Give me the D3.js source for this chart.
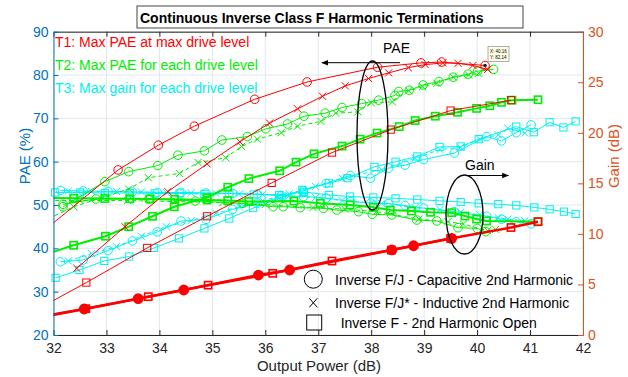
<!DOCTYPE html>
<html>
<head>
<meta charset="utf-8">
<script src="https://cdn.jsdelivr.net/npm/d3@7"></script>
<style>
body { margin: 0; background: #fff; }
svg text { font-family: "Liberation Sans", Arial, sans-serif; }
</style>
</head>
<body>
<svg id="chart" width="628" height="377"></svg>
<script>
// axis ticks
const xTicks = d3.range(32, 43, 1);
const paeTicks = d3.range(20, 91, 10);
const gainTicks = d3.range(0, 31, 5);

// PAE (%) vs output power (dB)
const paeRedCirc = [[31.9,44.9],[33.22,58.1],[33.98,63.8],[34.66,68.2],[35.8,74.4],[36.79,78.4],[38.12,81.8],[38.94,82.8],[39.33,83.0],[40.15,82.2]];
const paeRedX = [[32.44,35.4],[33.35,45.0],[34.16,53.1],[34.9,59.5],[35.52,64.6],[36.08,68.9],[36.61,72.2],[37.08,75.1],[37.51,77.5],[37.95,79.2],[38.33,80.5],[38.7,81.7],[39.02,82.4],[39.35,82.8],[39.64,82.7],[39.92,82.2],[40.2,81.3]];
const paeRedSq = [[31.9,27.3],[32.62,32.1],[33.77,40.1],[34.9,47.4],[36.12,55.1],[37.26,62.1],[38.37,67.4],[39.5,71.8],[40.64,74.2]];
const paeGreenCirc = [[32.18,49.6],[32.97,55.4],[33.42,57.7],[33.97,59.1],[34.35,61.5],[34.85,62.5],[35.18,65.0],[35.66,65.8],[36.01,67.6],[36.42,68.7],[36.73,70.5],[37.13,71.2],[37.45,72.5],[37.82,73.4],[38.14,74.2],[38.45,75.3],[38.52,76.2],[38.72,76.5],[38.98,77.7],[39.28,78.5],[39.55,79.5],[39.83,80.2],[40.01,80.9],[40.31,81.3]];
const paeGreenX = [[31.9,46.8],[32.38,49.6],[33.42,53.7],[33.79,56.3],[34.38,57.3],[34.73,59.8],[35.25,60.9],[35.55,63.5],[35.85,65.2],[36.3,66.7],[36.61,68.2],[37.05,69.3],[37.33,71.2],[37.75,71.5],[38.0,73.6],[38.4,73.8],[38.71,76.4],[38.97,77.3],[39.24,78.1],[39.55,79.5],[39.84,80.0],[40.03,80.4]];
const paeGreenSq = [[31.9,38.8],[32.38,40.7],[32.98,42.8],[33.42,45.0],[33.87,47.4],[34.28,49.6],[34.9,51.7],[35.29,54.1],[35.69,56.1],[36.27,57.9],[36.58,59.9],[36.92,61.8],[37.45,63.6],[37.79,65.2],[38.11,66.6],[38.53,68.1],[38.83,69.5],[39.21,70.5],[39.63,71.4],[39.99,72.3],[40.24,72.9],[40.46,73.7],[40.66,74.2],[41.15,74.3]];
const paeCyanCirc = [[32.13,36.9],[32.56,37.3],[33.03,39.5],[33.49,41.7],[33.96,43.8],[34.41,46.3],[34.88,46.7],[35.38,49.0],[35.85,50.4],[36.3,51.8],[36.72,53.3],[37.15,55.0],[37.61,56.8],[37.99,56.2],[38.33,58.5],[38.64,59.2],[38.99,60.5],[39.57,62.0],[40.18,65.8],[40.46,64.8],[40.74,66.7],[41.02,68.5]];
const paeCyanX = [[32.28,37.1],[32.72,38.8],[33.19,40.4],[33.66,42.8],[34.13,45.0],[34.6,46.4],[35.07,48.1],[35.51,49.6],[35.95,51.0],[36.45,52.6],[36.95,54.3],[37.45,56.2],[38.2,58.1],[38.83,60.8],[39.3,62.8],[39.69,63.3],[40.05,65.2],[40.4,66.2],[40.58,67.7],[40.9,66.6]];
const paeCyanSq = [[32.04,33.2],[32.49,35.0],[32.96,37.1],[33.43,38.1],[33.9,40.1],[34.37,42.3],[34.85,44.6],[35.32,46.9],[35.77,49.3],[36.26,51.6],[36.7,53.5],[37.2,55.0],[37.55,56.2],[38.06,58.8],[38.46,60.0],[38.87,61.2],[39.29,63.4],[39.69,63.5],[40.03,65.2],[40.74,68.1],[41.07,66.8],[41.37,69.1],[41.63,67.9],[41.86,69.3]];

// Gain (dB) vs output power (dB)
const gainCyanSq = [[32.03,14.1],[32.5,14.1],[32.97,14.05],[33.44,14.05],[33.91,14.0],[34.38,14.0],[34.85,13.95],[35.32,14.0],[35.78,13.9],[36.26,13.85],[36.73,14.15],[37.2,13.85],[37.6,13.7],[38.04,13.6],[38.46,13.52],[38.87,13.4],[39.29,13.27],[39.69,13.15],[40.03,13.02],[40.4,12.94],[40.74,12.82],[41.08,12.62],[41.37,12.43],[41.64,12.2],[41.86,11.97]];
const gainCyanCirc = [[32.13,14.3],[32.56,14.25],[33.03,14.2],[33.49,14.15],[33.96,14.1],[34.41,14.1],[34.88,14.05],[35.38,14.0],[35.85,13.95],[36.3,13.8],[36.72,13.7],[37.15,13.55],[37.61,13.2],[37.99,13.05],[38.33,13.0],[38.64,12.8],[38.99,12.55],[39.57,12.2],[40.18,11.75],[40.46,11.45],[40.74,11.2],[41.02,11.0]];
const gainCyanX = [[32.28,14.25],[32.72,14.2],[33.19,14.2],[33.66,14.15],[34.13,14.1],[34.6,14.05],[35.07,14.0],[35.51,13.95],[35.95,13.9],[36.45,13.75],[36.95,13.6],[37.45,13.3],[38.2,13.0],[38.83,12.6],[39.3,12.4],[39.69,12.15],[40.05,11.9],[40.4,11.6],[40.58,11.45],[40.9,11.3]];
const gainGreenCirc = [[32.18,12.93],[32.8,13.45],[33.8,13.45],[34.68,13.25],[35.58,13.02],[36.15,12.69],[36.34,12.69],[36.66,12.59],[37.1,12.53],[37.35,12.36],[37.76,12.2],[38.02,11.94],[38.39,11.87],[38.86,11.37],[39.24,11.28],[39.64,10.61],[40.0,10.55],[40.16,10.22]];
const gainGreenX = [[31.9,13.3],[32.5,13.3],[33.4,13.3],[34.3,13.2],[35.2,13.1],[36.0,12.9],[36.9,12.6],[37.5,12.45],[38.1,12.2],[38.9,11.47],[39.45,11.21],[39.74,10.98],[40.2,10.32],[40.35,10.45]];
const gainGreenSq = [[31.9,13.55],[32.38,13.52],[32.97,13.5],[33.44,13.48],[33.82,13.45],[34.29,13.42],[34.9,13.35],[35.29,13.3],[35.69,13.2],[36.54,13.25],[37.04,13.02],[37.6,12.86],[38.04,12.63],[38.36,12.36],[38.76,12.26],[39.12,12.14],[39.52,12.1],[39.77,11.77],[39.99,11.47],[40.18,11.28],[41.15,11.21]];
const gainRedCirc = [[31.9,1.9],[32.58,2.57],[33.6,3.6],[34.46,4.45],[35.87,5.93],[36.46,6.43],[38.39,8.41],[38.8,8.83],[39.52,9.56]];
const gainRedSq = [[31.9,1.95],[32.61,2.6],[33.79,3.79],[34.92,4.93],[36.14,6.1],[37.26,7.32],[38.38,8.4],[39.5,9.55],[40.64,10.63],[41.15,11.21]];

const legendTexts = ["T1: Max PAE at max drive level", "T2: Max PAE for each drive level", "T3: Max gain for each drive level"];
const markerTexts = ["Inverse F/J - Capacitive 2nd Harmonic", "Inverse F/J* - Inductive 2nd Harmonic", "Inverse F - 2nd Harmonic Open"];

const RED = "#ff0000", GREEN = "#00ee00", CYAN = "#00f0f0";
const BLUE = "#0072bd", ORANGE = "#d95319", DARK = "#262626";

const svg = d3.select("#chart");
const pLeft = 53.5, pRight = 583, pTop = 31.7, pBottom = 335;

const x = d3.scaleLinear().domain([32, 42]).range([pLeft, pRight]);
const yL = d3.scaleLinear().domain([20, 90]).range([pBottom, pTop]);
const yR = d3.scaleLinear().domain([0, 30]).range([pBottom, pTop]);

const defs = svg.append("defs");
defs.append("clipPath").attr("id", "clip")
    .append("rect").attr("x", pLeft).attr("y", pTop)
    .attr("width", pRight - pLeft).attr("height", pBottom - pTop);
defs.append("marker").attr("id", "arrow")
    .attr("viewBox", "0 0 10 10").attr("refX", 9).attr("refY", 5)
    .attr("markerWidth", 7).attr("markerHeight", 7).attr("orient", "auto")
    .append("path").attr("d", "M0,1L10,5L0,9z").attr("fill", "#000");

// grid
const grid = svg.append("g");
grid.selectAll(".gx").data(xTicks).enter().append("line")
    .attr("x1", d => x(d)).attr("x2", d => x(d))
    .attr("y1", pTop).attr("y2", pBottom)
    .attr("stroke", "#e1e7ec").attr("stroke-width", 1);
grid.selectAll(".gy").data(paeTicks).enter().append("line")
    .attr("x1", pLeft).attr("x2", pRight)
    .attr("y1", d => yL(d)).attr("y2", d => yL(d))
    .attr("stroke", "#e1e7ec").attr("stroke-width", 1);

// series
const series = [
    { data: paeCyanSq, y: yL, color: CYAN, mark: "sq" },
    { data: paeCyanCirc, y: yL, color: CYAN, mark: "circ" },
    { data: paeCyanX, y: yL, color: CYAN, mark: "x", dash: "4,3" },
    { data: gainCyanSq, y: yR, color: CYAN, mark: "sq" },
    { data: gainCyanCirc, y: yR, color: CYAN, mark: "circ" },
    { data: gainCyanX, y: yR, color: CYAN, mark: "x", dash: "4,3" },
    { data: gainGreenCirc, y: yR, color: GREEN, mark: "circ" },
    { data: gainGreenX, y: yR, color: GREEN, mark: "x", dash: "4,3" },
    { data: gainGreenSq, y: yR, color: GREEN, mark: "sq", w: 2 },
    { data: paeGreenCirc, y: yL, color: GREEN, mark: "circ" },
    { data: paeGreenX, y: yL, color: GREEN, mark: "x", dash: "4,3" },
    { data: paeGreenSq, y: yL, color: GREEN, mark: "sq", w: 2 },
    { data: paeRedSq, y: yL, color: RED, mark: "sq" },
    { data: paeRedX, y: yL, color: RED, mark: "x" },
    { data: paeRedCirc, y: yL, color: RED, mark: "circ" },
    { data: gainRedSq, y: yR, color: RED, mark: "sq", w: 2.5 },
    { data: gainRedCirc, y: yR, color: RED, mark: "dot", w: 2.5 }
];

const plot = svg.append("g");

function drawSeries(s) {
    const line = d3.line().x(d => x(d[0])).y(d => s.y(d[1]));
    const sw = s.w || 1;
    plot.append("path")
        .attr("d", line(s.data))
        .attr("fill", "none")
        .attr("stroke", s.color)
        .attr("stroke-width", sw)
        .attr("stroke-dasharray", s.dash || null)
        .attr("clip-path", "url(#clip)");

    const pts = s.data.filter(d => d[0] >= 32 && d[0] <= 42);
    const g = plot.append("g")
        .attr("stroke", s.color)
        .attr("stroke-width", sw > 1 ? 1.6 : 1)
        .attr("fill", "none");
    if (s.mark === "circ") {
        g.selectAll("circle").data(pts).enter().append("circle")
            .attr("cx", d => x(d[0])).attr("cy", d => s.y(d[1])).attr("r", 4.3);
    } else if (s.mark === "dot") {
        g.attr("fill", s.color);
        g.selectAll("circle").data(pts).enter().append("circle")
            .attr("cx", d => x(d[0])).attr("cy", d => s.y(d[1])).attr("r", 4.6);
    } else if (s.mark === "sq") {
        g.selectAll("rect").data(pts).enter().append("rect")
            .attr("x", d => x(d[0]) - 3.6).attr("y", d => s.y(d[1]) - 3.6)
            .attr("width", 7.2).attr("height", 7.2);
    } else {
        g.selectAll("path").data(pts).enter().append("path")
            .attr("d", d => {
                const cx = x(d[0]), cy = s.y(d[1]), r = 3.6;
                return `M${cx - r},${cy - r}L${cx + r},${cy + r}M${cx - r},${cy + r}L${cx + r},${cy - r}`;
            });
    }
}
series.forEach(drawSeries);

// axes
const xAxis = svg.append("g").attr("transform", `translate(0,${pBottom})`)
    .call(d3.axisBottom(x).tickValues(xTicks).tickSizeInner(-5).tickSizeOuter(0).tickPadding(8));
xAxis.selectAll("path,line").attr("stroke", DARK);
xAxis.selectAll("text").attr("fill", DARK).style("font-size", "14px");

// top box edge with ticks
const topAxis = svg.append("g").attr("transform", `translate(0,${pTop})`)
    .call(d3.axisTop(x).tickValues(xTicks).tickSizeInner(-5).tickSizeOuter(0).tickFormat(""));
topAxis.selectAll("path,line").attr("stroke", DARK);

const yAxisL = svg.append("g").attr("transform", `translate(${pLeft},0)`)
    .call(d3.axisLeft(yL).tickValues(paeTicks).tickSizeInner(-5).tickSizeOuter(0).tickPadding(5));
yAxisL.selectAll("path,line").attr("stroke", BLUE);
yAxisL.selectAll("text").attr("fill", BLUE).style("font-size", "14px");

const yAxisR = svg.append("g").attr("transform", `translate(${pRight},0)`)
    .call(d3.axisRight(yR).tickValues(gainTicks).tickSizeInner(-5).tickSizeOuter(0).tickPadding(5));
yAxisR.selectAll("path,line").attr("stroke", ORANGE);
yAxisR.selectAll("text").attr("fill", ORANGE).style("font-size", "14px");

svg.selectAll(".domain").attr("stroke-width", 1);

// axis labels
svg.append("text").attr("x", 319).attr("y", 371).attr("text-anchor", "middle")
    .attr("fill", DARK).style("font-size", "15px").text("Output Power (dB)");
svg.append("text").attr("transform", "translate(30,156) rotate(-90)").attr("text-anchor", "middle")
    .attr("fill", BLUE).style("font-size", "15px").text("PAE (%)");
svg.append("text").attr("transform", "translate(619,156) rotate(-90)").attr("text-anchor", "middle")
    .attr("fill", ORANGE).style("font-size", "15px").text("Gain (dB)");

// title box
svg.append("rect").attr("x", 137).attr("y", 6).attr("width", 386).attr("height", 22)
    .attr("fill", "#fff").attr("stroke", "#444").attr("stroke-width", 1);
svg.append("text").attr("x", 140).attr("y", 22.5).attr("fill", "#000")
    .style("font-size", "14px").style("font-weight", "bold")
    .text("Continuous Inverse Class F Harmonic Terminations");

// T1..T3 notes
const noteColors = [RED, GREEN, CYAN];
svg.selectAll(".note").data(legendTexts).enter().append("text")
    .attr("x", 55).attr("y", (d, i) => 47 + i * 23)
    .attr("fill", (d, i) => noteColors[i])
    .style("font-size", "14px").text(d => d);

// ellipses and arrows
svg.append("ellipse").attr("cx", 372.5).attr("cy", 135.5).attr("rx", 15.5).attr("ry", 74.5)
    .attr("fill", "none").attr("stroke", "#000").attr("stroke-width", 1.3);
svg.append("line").attr("x1", 400).attr("y1", 62.7).attr("x2", 322).attr("y2", 62.7)
    .attr("stroke", "#000").attr("stroke-width", 1).attr("marker-end", "url(#arrow)");
svg.append("text").attr("x", 383).attr("y", 53).style("font-size", "14px").attr("fill", "#000").text("PAE");

svg.append("ellipse").attr("cx", 464.5).attr("cy", 214.5).attr("rx", 18.5).attr("ry", 39.5)
    .attr("fill", "none").attr("stroke", "#000").attr("stroke-width", 1.3);
svg.append("line").attr("x1", 465).attr("y1", 175.5).attr("x2", 508.5).attr("y2", 175.5)
    .attr("stroke", "#000").attr("stroke-width", 1).attr("marker-end", "url(#arrow)");
svg.append("text").attr("x", 465).attr("y", 170).style("font-size", "14px").attr("fill", "#000").text("Gain");

// marker legend
const lg = svg.append("g").attr("stroke", "#000").attr("fill", "none").attr("stroke-width", 1);
lg.append("circle").attr("cx", 313.3).attr("cy", 279.2).attr("r", 9);
lg.append("path").attr("d", "M309.3,298.3L317.3,307.3M309.3,307.3L317.3,298.3");
lg.append("rect").attr("x", 306.7).attr("y", 315).attr("width", 15).attr("height", 15);
const mtx = [335, 335, 340.7], mty = [284.5, 307.8, 328];
svg.selectAll(".mt").data(markerTexts).enter().append("text")
    .attr("x", (d, i) => mtx[i]).attr("y", (d, i) => mty[i])
    .attr("fill", "#000").style("font-size", "14px").text(d => d);

// data tip
const tipPt = paeRedCirc[paeRedCirc.length - 1];
svg.append("circle").attr("cx", x(tipPt[0])).attr("cy", yL(tipPt[1])).attr("r", 1.8).attr("fill", "#222");
svg.append("rect").attr("x", 488).attr("y", 46.5).attr("width", 21).attr("height", 15)
    .attr("fill", "#ffffe6").attr("stroke", "#999").attr("stroke-width", 0.8);
svg.append("text").attr("x", 490).attr("y", 53).style("font-size", "4.5px").attr("fill", "#000").text("X: 40.16");
svg.append("text").attr("x", 490).attr("y", 59).style("font-size", "4.5px").attr("fill", "#000").text("Y: 82.14");
</script>
</body>
</html>
